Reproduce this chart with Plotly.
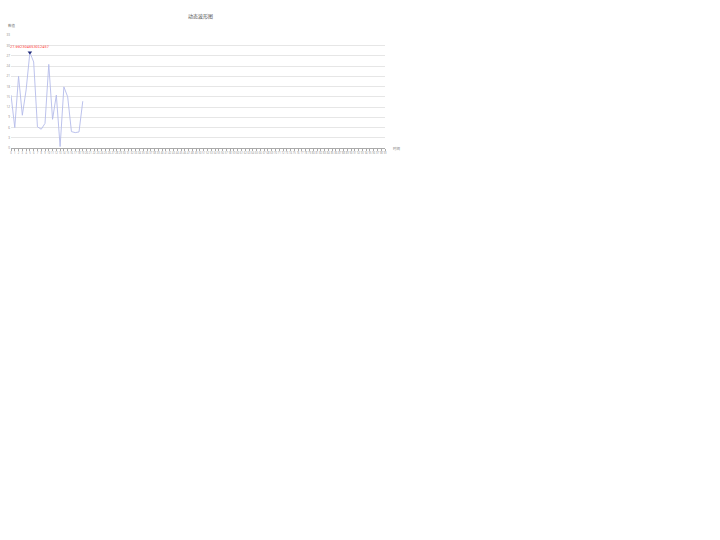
import plotly.graph_objects as go

# --- data ---
categories = [str(i) for i in range(100)]
values = [15.5, 6.0, 21.0, 9.6, 17.0, 27.992304653012456, 25.2, 6.2, 5.5, 7.2,
          24.5, 8.4, 15.5, 0.4, 17.9, 15.0, 4.8, 4.5, 4.7, 13.7]
peak_idx = values.index(max(values))
peak_val = values[peak_idx]

TITLE = "动态波形图"
Y_NAME = "数值"
X_NAME = "时间"

fig = go.Figure()

fig.add_trace(go.Scatter(
    x=categories[:len(values)],
    y=values,
    mode="lines",
    line=dict(color="#b4bbea", width=0.9),
    showlegend=False,
    hoverinfo="x+y",
))

# max marker
fig.add_trace(go.Scatter(
    x=[categories[peak_idx]],
    y=[peak_val],
    mode="markers",
    marker=dict(symbol="triangle-down", size=4, color="#1f2a7a"),
    showlegend=False,
))

fig.add_annotation(
    x=categories[peak_idx], y=peak_val,
    text=str(peak_val),
    showarrow=False,
    yshift=5,
    font=dict(size=3.5, color="#ff2a2a", family="DejaVu Sans"),
)

# title and axis names (plot area is 374 x 113 px)
fig.add_annotation(
    x=(200 - 11) / 374, y=1 + (35 - 10) / 113, xref="paper", yref="paper",
    text=TITLE, showarrow=False,
    font=dict(size=5, color="#555555", family="Noto Sans CJK SC"),
)
fig.add_annotation(
    x=0.0, y=1.0, xref="paper", yref="paper", text=Y_NAME, showarrow=False,
    xanchor="left", yanchor="bottom", yshift=5, xshift=-5,
    font=dict(size=3.5, color="#777777", family="Noto Sans CJK SC"),
)
fig.add_annotation(
    x=1.0, y=0.0, xref="paper", yref="paper", text=X_NAME, showarrow=False,
    xanchor="left", yanchor="middle", xshift=6,
    font=dict(size=3.5, color="#777777", family="Noto Sans CJK SC"),
)

fig.update_layout(
    width=720,
    height=540,
    autosize=False,
    margin=dict(l=11, r=335, t=35, b=392),
    plot_bgcolor="white",
    paper_bgcolor="white",
    xaxis=dict(
        type="category",
        categoryorder="array",
        categoryarray=categories,
        range=[0, len(categories) - 1],
        tickmode="array",
        tickvals=categories,
        ticktext=categories,
        tickangle=0,
        tickfont=dict(size=2.6, color="#888888"),
        ticks="outside",
        ticklen=2,
        tickcolor="#aaaaaa",
        showline=True,
        linecolor="#aaaaaa",
        linewidth=0.8,
        showgrid=False,
        zeroline=False,
        automargin=False,
    ),
    yaxis=dict(
        range=[0, 33.1],
        dtick=3,
        tickfont=dict(size=3, color="#888888"),
        showgrid=True,
        gridcolor="#e6e6e6",
        gridwidth=0.8,
        zeroline=False,
        showline=False,
        ticks="",
        automargin=False,
    ),
)

fig.write_html(
    "out.html",
    config={"displayModeBar": False},
    post_script="document.body.style.margin='0';",
)
